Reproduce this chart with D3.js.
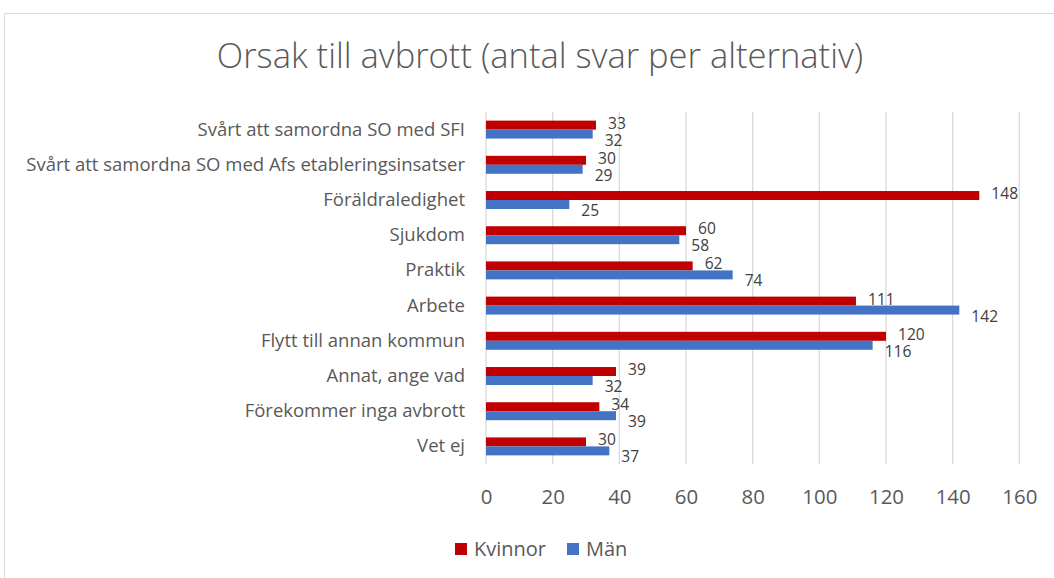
<!DOCTYPE html>
<html>
<head>
<meta charset="utf-8">
<script src="https://cdn.jsdelivr.net/npm/d3@7"></script>
<style>
  html, body { margin: 0; padding: 0; background: #fff; }
  svg { display: block; font-family: "Open Sans", "Liberation Sans", Arial, sans-serif; }
</style>
</head>
<body>
<svg id="chart" width="1054" height="578"></svg>
<script>
"use strict";

const categories = [
  "Svårt att samordna SO med SFI",
  "Svårt att samordna SO med Afs etableringsinsatser",
  "Föräldraledighet",
  "Sjukdom",
  "Praktik",
  "Arbete",
  "Flytt till annan kommun",
  "Annat, ange vad",
  "Förekommer inga avbrott",
  "Vet ej"
];
const seriesNames = ["Kvinnor", "Män"];
const kvinnor = [33, 30, 148, 60, 62, 111, 120, 39, 34, 30];
const man = [32, 29, 25, 58, 74, 142, 116, 32, 39, 37];
const xTicks = [0, 20, 40, 60, 80, 100, 120, 140, 160];
const colors = ["#C00000", "#4472C4"];
const fontFamily = "'Open Sans', 'Liberation Sans', Arial, sans-serif";

const svg = d3.select("#chart");

// chart frame
svg.append("rect")
  .attr("x", 4.5).attr("y", 13.5)
  .attr("width", 1200).attr("height", 700)
  .attr("fill", "none")
  .attr("stroke", "#d9d9d9");

const plotLeft = 486, plotRight = 1019.3, plotTop = 112, plotBottom = 464;

const x = d3.scaleLinear().domain([0, 160]).range([plotLeft, plotRight]);
const y0 = d3.scaleBand().domain(categories).range([plotTop, plotBottom])
  .paddingInner(0.49).paddingOuter(0.245);
const y1 = d3.scaleBand().domain(seriesNames).range([0, y0.bandwidth()]);

// title
svg.append("text")
  .attr("x", 540).attr("y", 68)
  .attr("text-anchor", "middle")
  .attr("fill", "#595959")
  .style("font-size", "34.5px")
  .style("font-weight", 300)
  .text("Orsak till avbrott (antal svar per alternativ)");

// gridlines
svg.append("g")
  .selectAll("line")
  .data(xTicks)
  .join("line")
  .attr("x1", (d) => x(d)).attr("x2", (d) => x(d))
  .attr("y1", plotTop).attr("y2", plotBottom)
  .attr("stroke", "#d9d9d9")
  .attr("stroke-width", 1.3);

// x axis labels
const xAxis = d3.axisBottom(x).tickValues(xTicks).tickSize(0).tickPadding(0);
svg.append("g")
  .attr("transform", `translate(0,${plotBottom + 40})`)
  .call(xAxis)
  .call((g) => g.select(".domain").remove())
  .call((g) => g.selectAll("text")
    .attr("dy", 0)
    .attr("fill", "#595959")
    .style("font-size", "20.4px")
    .style("font-family", fontFamily));

// category labels
const yAxis = d3.axisLeft(y0).tickSize(0).tickPadding(21);
svg.append("g")
  .attr("transform", `translate(${plotLeft},0)`)
  .call(yAxis)
  .call((g) => g.select(".domain").remove())
  .call((g) => g.selectAll("text")
    .attr("fill", "#595959")
    .style("font-size", "18.5px")
    .style("font-family", fontFamily));

const rows = categories.map((c, i) => ({ cat: c, vals: [kvinnor[i], man[i]] }));

const groups = svg.append("g")
  .selectAll("g")
  .data(rows)
  .join("g")
  .attr("transform", (d) => `translate(0,${y0(d.cat)})`);

groups.selectAll("rect")
  .data((d) => d.vals.map((v, i) => ({ s: seriesNames[i], v, i })))
  .join("rect")
  .attr("x", x(0))
  .attr("y", (d) => y1(d.s))
  .attr("width", (d) => x(d.v) - x(0))
  .attr("height", y1.bandwidth())
  .attr("fill", (d) => colors[d.i]);

// value labels
groups.selectAll("text")
  .data((d) => d.vals.map((v, i) => ({ s: seriesNames[i], v, i })))
  .join("text")
  .attr("x", (d) => x(d.v) + 12)
  .attr("y", (d) => y1(d.s) + y1.bandwidth() / 2 + (d.i === 0 ? -2 : 6))
  .attr("dy", "0.35em")
  .attr("fill", "#404040")
  .style("font-size", "15.6px")
  .text((d) => d.v);

// legend
const legend = svg.append("g").attr("transform", "translate(455,549)");
const legendX = [0, 112];
seriesNames.forEach((name, i) => {
  const item = legend.append("g").attr("transform", `translate(${legendX[i]},0)`);
  item.append("rect")
    .attr("x", 0).attr("y", -6)
    .attr("width", 12).attr("height", 12)
    .attr("fill", colors[i]);
  item.append("text")
    .attr("x", 19).attr("y", 0)
    .attr("dy", "0.35em")
    .attr("fill", "#595959")
    .style("font-size", "20px")
    .text(name);
});
</script>
</body>
</html>
